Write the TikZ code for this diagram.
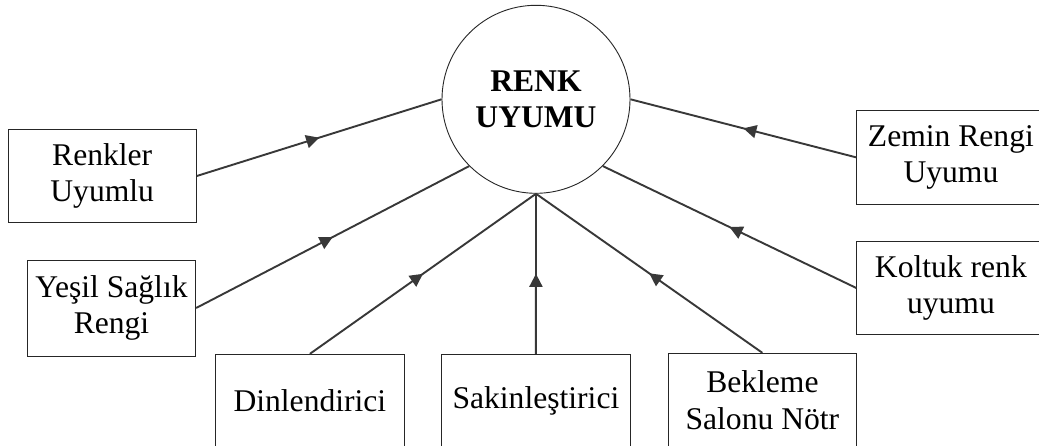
\documentclass[tikz,border=0pt]{standalone}
\usepackage{fontspec}
\setmainfont{Liberation Serif}
\usetikzlibrary{arrows.meta,decorations.markings}
\begin{document}
\begin{tikzpicture}[x=1pt,y=-1pt,
  box/.style={draw=black!85,line width=0.9pt,rectangle,inner sep=0pt,align=center,
    minimum width=188.3pt,minimum height=93.4pt,
    font=\fontsize{31.6}{36.5}\selectfont},
  hub/.style={draw=black!85,line width=0.9pt,circle,inner sep=0pt,minimum size=188pt,align=center,
    font=\fontsize{31.6}{36.7}\selectfont\bfseries},
  conn/.style={draw=black!78,line width=1.9pt,
    postaction={decorate},
    decoration={markings,mark=at position 0.5 with {\arrow[black!78]{Triangle[length=13pt,width=13pt]}}}}
]
\useasboundingbox (0,0) rectangle (1039,446);
\clip (0,0) rectangle (1039,446);
\fill[white] (0,0) rectangle (1039,446);

\node[hub] (c) at (536,99.3) {RENK\\UYUMU};

\node[box] (r1) at (102.2,176) {Renkler\\Uyumlu};
\node[box,minimum width=168.4pt,minimum height=96pt] (r2) at (111.5,308) {Yeşil Sağlık\\Rengi};
\node[box] (b1) at (309.9,401) {Dinlendirici};
\node[box] (b2) at (535.9,401) {Sakinleştirici};
\node[box] (b3) at (762.4,400) {Bekleme\\Salonu Nötr};
\node[box] (z) at (950.9,157.4) {Zemin Rengi\\Uyumu};
\node[box] (k) at (950.9,288) {Koltuk renk\\uyumu};

\draw[conn] (r1.east) -- (c.west);
\draw[conn] (r2.east) -- (c.225);
\draw[conn] (b1.north) -- (c.south);
\draw[conn] (b2.north) -- (c.south);
\draw[conn] (b3.north) -- (c.south);
\draw[conn] (z.west) -- (c.east);
\draw[conn] (k.west) -- (c.-45);
\end{tikzpicture}
\end{document}
